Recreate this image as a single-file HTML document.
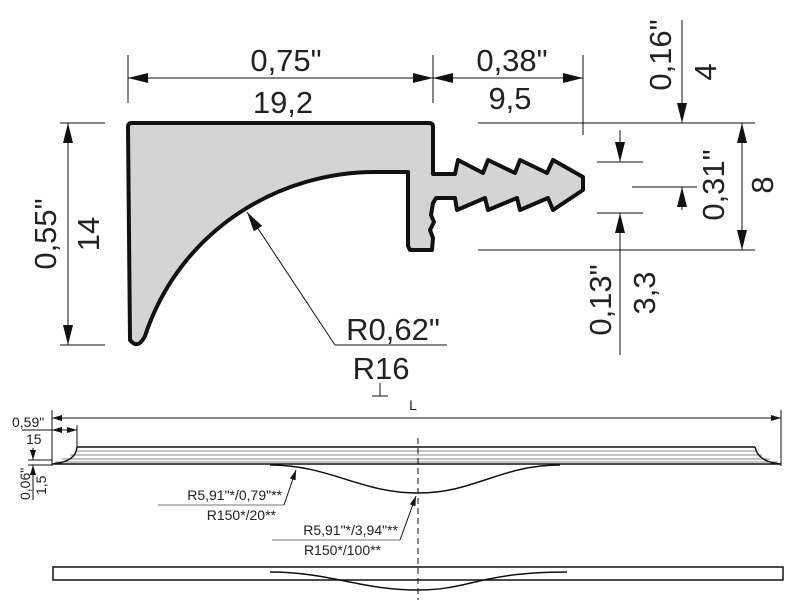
<!DOCTYPE html>
<html><head><style>body{margin:0;background:#fff}svg{display:block}text{font-family:"Liberation Sans",sans-serif;fill:#222}</style></head><body>
<svg width="800" height="600" viewBox="0 0 800 600" xmlns="http://www.w3.org/2000/svg">
<defs>
<marker id="a" markerWidth="20" markerHeight="10" refX="20" refY="5" orient="auto-start-reverse" markerUnits="userSpaceOnUse"><path d="M0,0 L20,5 L0,10z" fill="#111"/></marker>
<marker id="s" markerWidth="10" markerHeight="6" refX="10" refY="3" orient="auto-start-reverse" markerUnits="userSpaceOnUse"><path d="M0,0 L10,3 L0,6z" fill="#111"/></marker>
</defs>
<path d="M132,123 L429,123 Q433,123 433,127 L433,174 L455,174 L458,160 L483,173 L488,160 L515,173 L520,160 L547,173 L553,160 L583,177 L583,190 L553,210 L548,198 L520,210 L517,198 L488,210 L485,198 L457,210 L455,198 L436,198 L433,203 L431,215 L434,222 L430,230 L433,238 L432,250 L410,250 L408,246 L408,172 L380,172 C280,170 180,230 145,336 Q138,350 130,340 L128,127 Q128,123 132,123Z" fill="#d4d4d4" stroke="#111" stroke-width="4" stroke-linejoin="round"/>
<g stroke="#111" stroke-width="1" fill="none">
<line x1="128" y1="55" x2="128" y2="103"/><line x1="433" y1="55" x2="433" y2="103"/>
<line x1="128" y1="78" x2="433" y2="78" marker-start="url(#a)" marker-end="url(#a)"/>
<line x1="433" y1="78" x2="583" y2="78" marker-start="url(#a)" marker-end="url(#a)"/>
<line x1="583" y1="55" x2="583" y2="135"/>
<line x1="60" y1="123" x2="105" y2="123"/><line x1="60" y1="345" x2="105" y2="345"/>
<line x1="68" y1="123" x2="68" y2="345" marker-start="url(#a)" marker-end="url(#a)"/>
<line x1="335" y1="345" x2="247" y2="212" marker-end="url(#a)"/>
<line x1="335" y1="345" x2="447" y2="345"/>
<line x1="478" y1="123" x2="755" y2="123"/><line x1="478" y1="250" x2="755" y2="250"/>
<line x1="682" y1="20" x2="682" y2="123" marker-end="url(#a)"/>
<line x1="682" y1="210" x2="682" y2="187" marker-end="url(#a)"/>
<line x1="632" y1="187" x2="697" y2="187"/>
<line x1="742" y1="123" x2="742" y2="250" marker-start="url(#a)" marker-end="url(#a)"/>
<line x1="597" y1="162" x2="643" y2="162"/><line x1="597" y1="213" x2="643" y2="213"/>
<line x1="620" y1="130" x2="620" y2="162" marker-end="url(#a)"/>
<line x1="620" y1="355" x2="620" y2="213" marker-end="url(#a)"/>
<line x1="380" y1="383" x2="380" y2="396"/><line x1="372" y1="396" x2="388" y2="396"/>
<line x1="52" y1="418" x2="781" y2="418" marker-start="url(#s)" marker-end="url(#s)"/>
<line x1="52" y1="410" x2="52" y2="466"/><line x1="781" y1="410" x2="781" y2="466"/>
<line x1="22" y1="430" x2="77" y2="430"/>
<line x1="52" y1="430" x2="77" y2="430" marker-start="url(#s)" marker-end="url(#s)"/>
<line x1="77" y1="425" x2="77" y2="447"/>
<line x1="28" y1="460" x2="52" y2="460"/><line x1="28" y1="465" x2="52" y2="465"/>
<line x1="33" y1="448" x2="33" y2="460" marker-end="url(#s)"/>
<line x1="33" y1="478" x2="33" y2="465" marker-end="url(#s)"/>
<line x1="33" y1="478" x2="33" y2="500"/>
</g>
<g fill="none" stroke="#888" stroke-width="1">
<line x1="77" y1="451" x2="755" y2="451"/><line x1="70" y1="455" x2="762" y2="455"/><line x1="62" y1="459" x2="770" y2="459"/><line x1="55" y1="462" x2="778" y2="462"/>
</g>
<g fill="none" stroke="#111" stroke-width="1.5">
<path d="M77,447 L755,447"/>
<path d="M77,447 Q76,462 52,464 L781,464 Q758,462 755,447"/>
<path d="M270,465 C330,465 360,493 418,493 C475,493 500,465 560,465"/>
<rect x="53" y="567" width="730" height="13"/>
<path d="M270,572 C330,572 360,590 418,590 C470,590 480,572 567,572"/>
</g>
<line x1="418" y1="438" x2="418" y2="600" stroke="#111" stroke-width="1" stroke-dasharray="6,4"/>
<g stroke="#777" stroke-width="1" fill="none">
<line x1="158" y1="505" x2="284" y2="505"/><line x1="284" y1="505" x2="296" y2="470" stroke="#111" marker-end="url(#s)"/>
<line x1="272" y1="540" x2="400" y2="540"/><line x1="400" y1="540" x2="416" y2="496" stroke="#111" marker-end="url(#s)"/>
</g>
<g font-size="31" text-anchor="middle">
<text x="286" y="71">0,75"</text><text x="283" y="113">19,2</text>
<text x="512" y="71">0,38"</text><text x="510" y="109">9,5</text>
<text x="393" y="340">R0,62"</text><text x="381" y="379">R16</text>
<text transform="translate(56,234) rotate(-90)">0,55"</text>
<text transform="translate(99,234) rotate(-90)">14</text>
<text transform="translate(671,55) rotate(-90)">0,16"</text>
<text transform="translate(716,72) rotate(-90)">4</text>
<text transform="translate(724,185) rotate(-90)">0,31"</text>
<text transform="translate(773,185) rotate(-90)">8</text>
<text transform="translate(611,300) rotate(-90)">0,13"</text>
<text transform="translate(655,293) rotate(-90)">3,3</text>
</g>
<g font-size="14">
<text x="413" y="410" text-anchor="middle">L</text>
<text x="12" y="427">0,59"</text><text x="26" y="444">15</text>
<text transform="translate(30,500) rotate(-90)">0,06"</text>
<text transform="translate(46,495) rotate(-90)">1,5</text>
<text x="282" y="500" text-anchor="end">R5,91"*/0,79"**</text>
<text x="276" y="520" text-anchor="end">R150*/20**</text>
<text x="398" y="535" text-anchor="end">R5,91"*/3,94"**</text>
<text x="381" y="555" text-anchor="end">R150*/100**</text>
</g>
</svg>
</body></html>
